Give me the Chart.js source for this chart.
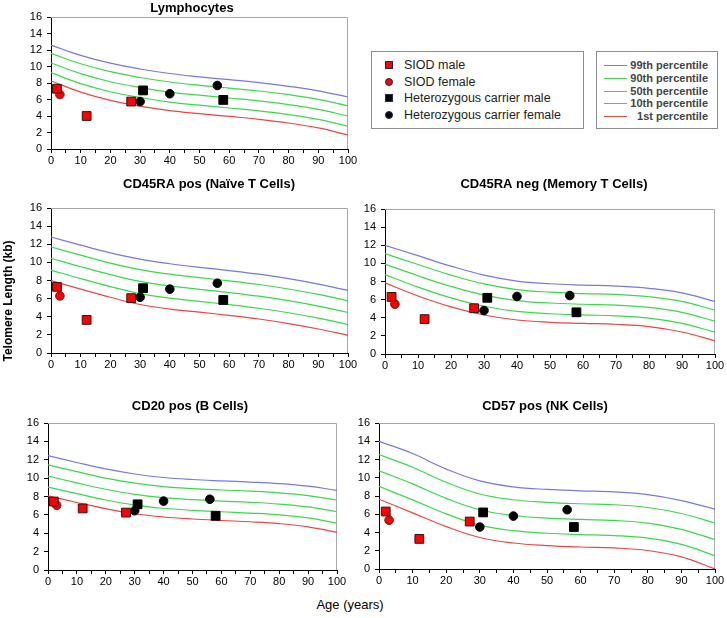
<!DOCTYPE html>
<html>
<head>
<meta charset="utf-8">
<script src="https://cdn.jsdelivr.net/npm/chart.js@4.4.0/dist/chart.umd.min.js"></script>
<style>
  body { margin: 0; width: 727px; height: 618px; overflow: hidden; position: relative; background: #fff;
         font-family: "Liberation Sans", Arial, sans-serif; }
  .panel { position: absolute; }
  .lgbox { position: absolute; border: 1.5px solid #8c8c8c; box-sizing: border-box; }
  .lgtext { position: absolute; white-space: nowrap; }
</style>
</head>
<body>
<div class="panel" id="p1"><canvas id="c1"></canvas></div>
<div class="panel" id="p2"><canvas id="c2"></canvas></div>
<div class="panel" id="p3"><canvas id="c3"></canvas></div>
<div class="panel" id="p4"><canvas id="c4"></canvas></div>
<div class="panel" id="p5"><canvas id="c5"></canvas></div>
<div class="lgbox" id="legendGroups" style="left:371px;top:51px;width:213px;height:78px"></div>
<div class="lgbox" id="legendCurves" style="left:596px;top:51px;width:122px;height:78px"></div>
<div class="lgtext" id="ytitle" style="left:-62px;top:294px;width:140px;text-align:center;font-weight:bold;font-size:12px;transform:rotate(-90deg)">Telomere Length (kb)</div>
<div class="lgtext" id="xtitle" style="left:300px;top:597px;width:100px;text-align:center;font-size:13px">Age (years)</div>

<script>
var ages = [0, 10, 20, 30, 40, 50, 60, 70, 80, 90, 100];
var percentileNames = ['99th percentile', '90th percentile', '50th percentile', '10th percentile', '1st percentile'];
var groupNames = ['SIOD male', 'SIOD female', 'Heterozygous carrier male', 'Heterozygous carrier female'];

// percentile curves, read at ages 0..100
var lymph99 = [12.6, 11.35, 10.4, 9.7, 9.15, 8.75, 8.4, 8.05, 7.6, 7.05, 6.3];
var lymph90 = [11.6, 10.33, 9.37, 8.67, 8.12, 7.72, 7.38, 7.03, 6.58, 6.02, 5.24];
var lymph50 = [10.43, 9.13, 8.15, 7.45, 6.9, 6.52, 6.18, 5.83, 5.38, 4.8, 4.0];
var lymph10 = [9.25, 7.92, 6.94, 6.24, 5.69, 5.31, 4.97, 4.62, 4.17, 3.59, 2.76];
var lymph1 = [8.25, 6.9, 5.9, 5.2, 4.65, 4.28, 3.95, 3.6, 3.15, 2.55, 1.7];

var naive99 = [12.8, 11.9, 11.05, 10.35, 9.85, 9.45, 9.1, 8.7, 8.2, 7.6, 6.9];
var naive90 = [11.7, 10.8, 9.92, 9.2, 8.7, 8.31, 7.96, 7.56, 7.06, 6.46, 5.76];
var naive50 = [10.45, 9.52, 8.65, 7.9, 7.4, 7.02, 6.67, 6.27, 5.77, 5.17, 4.47];
var naive10 = [9.15, 8.21, 7.33, 6.55, 6.05, 5.69, 5.34, 4.94, 4.44, 3.84, 3.14];
var naive1 = [8.0, 7.05, 6.15, 5.35, 4.85, 4.5, 4.15, 3.75, 3.25, 2.65, 1.95];

var memory99 = [12.0, 10.85, 9.7, 8.7, 8.05, 7.75, 7.6, 7.5, 7.25, 6.75, 5.8];
var memory90 = [11.09, 9.87, 8.71, 7.73, 7.1, 6.82, 6.67, 6.57, 6.32, 5.8, 4.84];
var memory50 = [9.93, 8.63, 7.45, 6.5, 5.9, 5.63, 5.49, 5.39, 5.14, 4.59, 3.63];
var memory10 = [8.76, 7.38, 6.19, 5.27, 4.7, 4.44, 4.31, 4.21, 3.96, 3.38, 2.41];
var memory1 = [7.85, 6.4, 5.2, 4.3, 3.75, 3.5, 3.38, 3.28, 3.03, 2.43, 1.45];

var bcell99 = [12.45, 11.7, 11.0, 10.45, 10.07, 9.85, 9.7, 9.57, 9.4, 9.12, 8.67];
var bcell90 = [11.44, 10.7, 10.0, 9.45, 9.08, 8.86, 8.71, 8.58, 8.4, 8.1, 7.62];
var bcell50 = [10.22, 9.48, 8.79, 8.24, 7.88, 7.66, 7.5, 7.37, 7.18, 6.87, 6.34];
var bcell10 = [9.03, 8.31, 7.62, 7.07, 6.72, 6.5, 6.34, 6.2, 6.01, 5.67, 5.1];
var bcell1 = [8.07, 7.35, 6.67, 6.12, 5.77, 5.55, 5.39, 5.25, 5.05, 4.7, 4.1];

var nk99 = [14.0, 12.65, 10.95, 9.65, 9.0, 8.72, 8.57, 8.45, 8.15, 7.5, 6.55];
var nk90 = [12.54, 11.15, 9.5, 8.22, 7.59, 7.31, 7.15, 7.04, 6.74, 6.08, 5.04];
var nk50 = [10.76, 9.33, 7.74, 6.49, 5.86, 5.58, 5.43, 5.32, 5.03, 4.35, 3.21];
var nk10 = [9.05, 7.58, 6.04, 4.81, 4.2, 3.92, 3.77, 3.66, 3.38, 2.69, 1.44];
var nk1 = [7.65, 6.15, 4.65, 3.45, 2.85, 2.57, 2.41, 2.31, 2.03, 1.33, 0.0];

// patients
var siodMaleAge = [2, 12, 27];
var siodFemaleAge = [3];
var hetMaleAge = [31, 58];
var hetFemaleAge = [30, 40, 56];

var lymphSiodMale = [7.3, 4.0, 5.75], lymphSiodFemale = [6.6], lymphHetMale = [7.1, 5.95], lymphHetFemale = [5.75, 6.7, 7.7];
var naiveSiodMale = [7.3, 3.65, 6.05], naiveSiodFemale = [6.3], naiveHetMale = [7.15, 5.85], naiveHetFemale = [6.15, 7.05, 7.7];
var memorySiodMale = [6.3, 3.85, 5.05], memorySiodFemale = [5.5], memoryHetMale = [6.2, 4.6], memoryHetFemale = [4.8, 6.35, 6.45];
var bcellSiodMale = [7.45, 6.7, 6.25], bcellSiodFemale = [7.05], bcellHetMale = [7.15, 5.9], bcellHetFemale = [6.45, 7.5, 7.7];
var nkSiodMale = [6.3, 3.3, 5.2], nkSiodFemale = [5.35], nkHetMale = [6.2, 4.6], nkHetFemale = [4.6, 5.8, 6.5];

var curveColors = ['#7777e6', '#3ad94a', '#3ad94a', '#3ad94a', '#ec4545'];
var groupStyles = [
  { pointStyle: 'rect', radius: 6.2, fill: '#ff0000', border: '#3a1010' },
  { pointStyle: 'circle', radius: 4.3, fill: '#ff0000', border: '#7a1010' },
  { pointStyle: 'rect', radius: 6.2, fill: '#000000', border: '#000000' },
  { pointStyle: 'circle', radius: 4.3, fill: '#000000', border: '#000000' }
];

Chart.defaults.font.family = '"Liberation Sans", Arial, sans-serif';
Chart.defaults.color = '#000';

var panelDecor = {
  id: 'panelDecor',
  beforeDatasetsDraw: function (chart) {
    var a = chart.chartArea, ctx = chart.ctx;
    ctx.save();
    ctx.strokeStyle = '#a8a8a8';
    ctx.lineWidth = 1;
    ctx.beginPath();
    ctx.moveTo(a.left, a.top + 0.5);
    ctx.lineTo(a.right - 0.5, a.top + 0.5);
    ctx.lineTo(a.right - 0.5, a.bottom);
    ctx.stroke();
    ctx.restore();
  },
  afterDraw: function (chart, args, opts) {
    var ctx = chart.ctx;
    ctx.save();
    ctx.font = 'bold 13px "Liberation Sans", Arial, sans-serif';
    ctx.fillStyle = '#000';
    ctx.textAlign = 'center';
    ctx.textBaseline = 'middle';
    ctx.fillText(opts.text, opts.x, opts.y);
    ctx.restore();
  }
};

function toPoints(xs, ys) {
  return xs.map(function (x, i) { return { x: x, y: ys[i] }; });
}

function makePanel(n, box, title, curves, groups) {
  var yw = 40, xh = 22;
  var left = box.L - yw, top = box.T - box.padTop;
  var div = document.getElementById('p' + n);
  div.style.left = left + 'px';
  div.style.top = top + 'px';
  div.style.width = (box.R + box.padRight - left) + 'px';
  div.style.height = (box.B + xh - top) + 'px';

  var datasets = [];
  var groupAges = [siodMaleAge, siodFemaleAge, hetMaleAge, hetFemaleAge];
  groups.forEach(function (vals, i) {
    var s = groupStyles[i];
    datasets.push({
      type: 'scatter', label: groupNames[i], data: toPoints(groupAges[i], vals),
      pointStyle: s.pointStyle, pointRadius: s.radius, backgroundColor: s.fill,
      borderColor: s.border, borderWidth: 1, order: 0
    });
  });
  curves.forEach(function (vals, i) {
    datasets.push({
      type: 'line', label: percentileNames[i], data: toPoints(ages, vals),
      borderColor: curveColors[i], borderWidth: 1.2, pointRadius: 0,
      tension: 0.4, fill: false, order: 1
    });
  });

  new Chart(document.getElementById('c' + n), {
    type: 'scatter',
    data: { datasets: datasets },
    plugins: [panelDecor],
    options: {
      responsive: true,
      maintainAspectRatio: false,
      animation: false,
      devicePixelRatio: 1,
      layout: { padding: { top: box.padTop, right: box.padRight, left: 0, bottom: 0 } },
      plugins: {
        legend: { display: false },
        tooltip: { enabled: false },
        panelDecor: { text: title, x: box.tx - left, y: box.ty - top }
      },
      scales: {
        x: {
          type: 'linear', min: 0, max: 100,
          afterFit: function (s) { s.height = xh; },
          border: { color: '#000', width: 1 },
          grid: { drawOnChartArea: false, drawTicks: true, tickLength: 4, color: '#000' },
          ticks: {
            stepSize: 5, autoSkip: false, maxRotation: 0, padding: 1,
            font: { size: 11 }, color: '#000',
            callback: function (v) { return v % 10 === 0 ? v : ''; }
          }
        },
        y: {
          min: 0, max: 16,
          afterFit: function (s) { s.width = yw; },
          border: { color: '#000', width: 1 },
          grid: { drawOnChartArea: false, drawTicks: true, tickLength: 4, color: '#000' },
          ticks: { stepSize: 2, padding: 5, font: { size: 11 }, color: '#000' }
        }
      }
    }
  });
}

makePanel(1, { L: 51, R: 348, T: 17, B: 149, padTop: 17, padRight: 15, tx: 192, ty: 8 }, 'Lymphocytes',
  [lymph99, lymph90, lymph50, lymph10, lymph1],
  [lymphSiodMale, lymphSiodFemale, lymphHetMale, lymphHetFemale]);
makePanel(2, { L: 51, R: 348, T: 208, B: 353, padTop: 30, padRight: 15, tx: 209, ty: 184 }, 'CD45RA pos (Na\u00efve T Cells)',
  [naive99, naive90, naive50, naive10, naive1],
  [naiveSiodMale, naiveSiodFemale, naiveHetMale, naiveHetFemale]);
makePanel(3, { L: 385, R: 715, T: 209, B: 354, padTop: 30, padRight: 12, tx: 554, ty: 184 }, 'CD45RA neg (Memory T Cells)',
  [memory99, memory90, memory50, memory10, memory1],
  [memorySiodMale, memorySiodFemale, memoryHetMale, memoryHetFemale]);
makePanel(4, { L: 48, R: 337, T: 423, B: 570, padTop: 30, padRight: 15, tx: 190, ty: 406 }, 'CD20 pos (B Cells)',
  [bcell99, bcell90, bcell50, bcell10, bcell1],
  [bcellSiodMale, bcellSiodFemale, bcellHetMale, bcellHetFemale]);
makePanel(5, { L: 379, R: 715, T: 423, B: 569, padTop: 30, padRight: 12, tx: 545, ty: 406 }, 'CD57 pos (NK Cells)',
  [nk99, nk90, nk50, nk10, nk1],
  [nkSiodMale, nkSiodFemale, nkHetMale, nkHetFemale]);

// legends
var lg1 = document.getElementById('legendGroups');
groupNames.forEach(function (name, i) {
  var s = groupStyles[i];
  var cy = 13 + i * 16.6;
  var m = document.createElement('div');
  m.style.cssText = 'position:absolute;left:13px;top:' + (cy - 4) + 'px;width:8px;height:8px;box-sizing:border-box;' +
    'background:' + s.fill + ';border:1px solid #1a2a5a;' + (s.pointStyle === 'circle' ? 'border-radius:50%;' : '');
  lg1.appendChild(m);
  var t = document.createElement('div');
  t.className = 'lgtext';
  t.style.cssText += 'left:32px;top:' + (cy - 8) + 'px;font-size:12.5px;line-height:16px;color:#222';
  t.textContent = name;
  lg1.appendChild(t);
});
var lg2 = document.getElementById('legendCurves');
percentileNames.forEach(function (name, i) {
  var cy = 13 + i * 12.8;
  var l = document.createElement('div');
  l.style.cssText = 'position:absolute;left:7px;top:' + Math.round(cy) + 'px;width:23px;height:1px;background:' + curveColors[i];
  lg2.appendChild(l);
  var t = document.createElement('div');
  t.className = 'lgtext';
  t.style.cssText += 'right:9px;top:' + (cy - 7) + 'px;font-size:11px;line-height:14px;font-weight:bold;color:#444;text-align:right';
  t.textContent = name;
  lg2.appendChild(t);
});
</script>
</body>
</html>
